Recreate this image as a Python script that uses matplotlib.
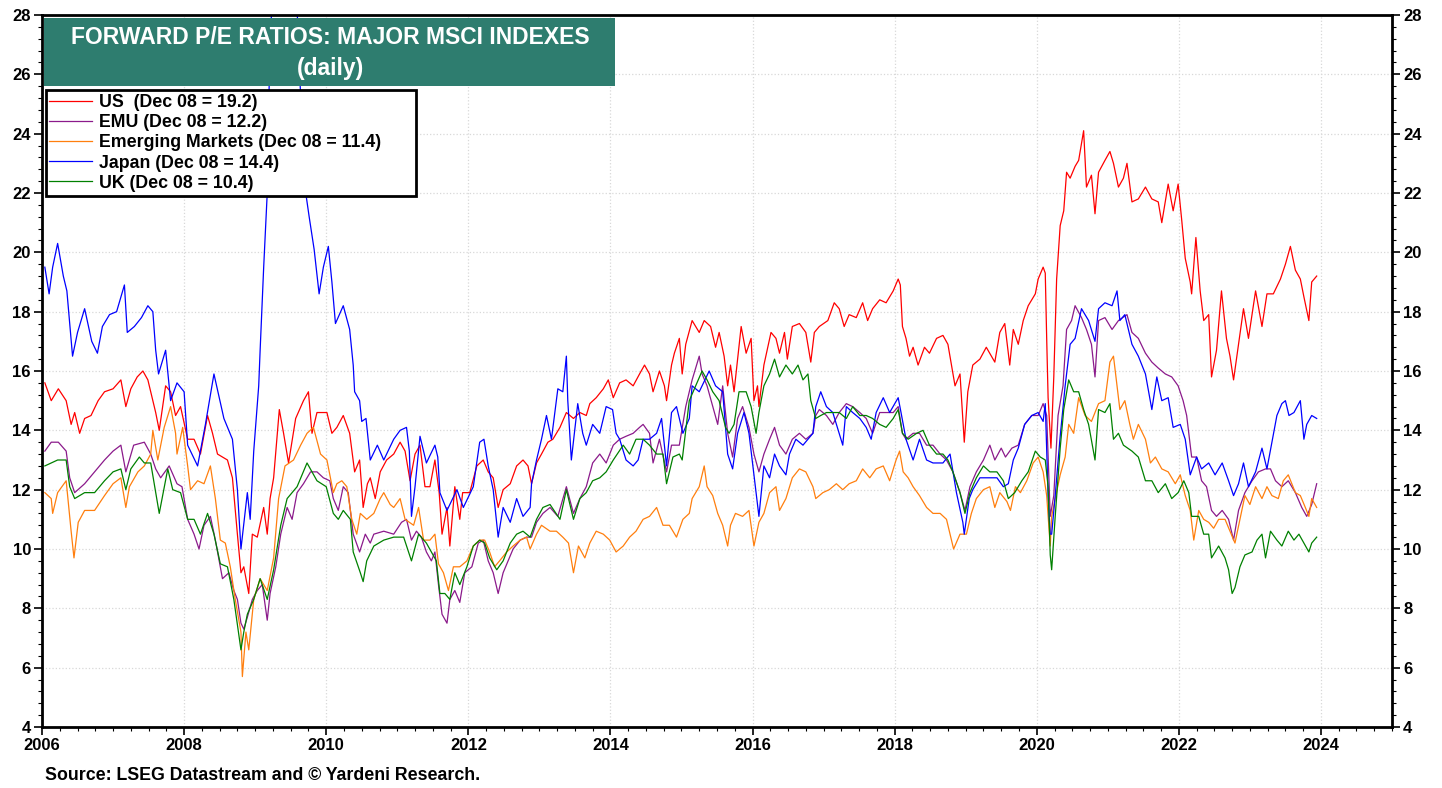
import matplotlib
matplotlib.use("Agg")
import matplotlib.pyplot as plt
from matplotlib.ticker import MultipleLocator, FixedLocator
from matplotlib.patches import Rectangle

plt.rcParams['font.family'] = ['Liberation Sans', 'DejaVu Sans']
plt.rcParams['font.weight'] = 'bold'

# ---------------- data (decimal year, forward P/E) ----------------
us_t = [2006.04,2006.13,2006.23,2006.34,2006.41,2006.46,2006.53,2006.60,2006.69,2006.79,2006.88,2007.00,2007.11,2007.18,2007.25,2007.34,2007.42,2007.49,2007.53,2007.60,2007.65,2007.74,2007.81,2007.88,2007.95,2008.05,2008.14,2008.23,2008.33,2008.40,2008.47,2008.61,2008.68,2008.75,2008.80,2008.84,2008.91,2008.96,2009.03,2009.12,2009.17,2009.21,2009.26,2009.34,2009.40,2009.47,2009.57,2009.68,2009.75,2009.80,2009.87,2010.01,2010.08,2010.15,2010.24,2010.33,2010.40,2010.47,2010.52,2010.58,2010.62,2010.69,2010.76,2010.85,2010.95,2011.04,2011.11,2011.18,2011.25,2011.32,2011.39,2011.46,2011.53,2011.59,2011.63,2011.70,2011.74,2011.81,2011.88,2011.92,2012.02,2012.12,2012.21,2012.28,2012.35,2012.42,2012.49,2012.59,2012.68,2012.77,2012.84,2012.89,2012.96,2013.03,2013.12,2013.19,2013.29,2013.38,2013.48,2013.57,2013.66,2013.71,2013.80,2013.90,2013.97,2014.04,2014.13,2014.22,2014.32,2014.41,2014.48,2014.55,2014.60,2014.69,2014.76,2014.79,2014.86,2014.90,2014.97,2015.01,2015.06,2015.15,2015.25,2015.32,2015.41,2015.48,2015.53,2015.60,2015.65,2015.69,2015.74,2015.84,2015.91,2015.98,2016.02,2016.07,2016.09,2016.16,2016.26,2016.33,2016.38,2016.45,2016.49,2016.56,2016.66,2016.75,2016.82,2016.87,2016.94,2017.06,2017.15,2017.22,2017.29,2017.36,2017.46,2017.55,2017.62,2017.69,2017.79,2017.88,2017.98,2018.05,2018.08,2018.11,2018.16,2018.21,2018.26,2018.33,2018.42,2018.49,2018.59,2018.68,2018.75,2018.80,2018.85,2018.92,2018.98,2019.03,2019.10,2019.20,2019.29,2019.41,2019.48,2019.55,2019.62,2019.67,2019.74,2019.81,2019.88,2019.98,2020.02,2020.09,2020.12,2020.14,2020.16,2020.20,2020.24,2020.28,2020.33,2020.38,2020.42,2020.47,2020.54,2020.59,2020.66,2020.70,2020.77,2020.82,2020.87,2020.96,2021.03,2021.08,2021.15,2021.22,2021.27,2021.34,2021.43,2021.53,2021.62,2021.71,2021.76,2021.85,2021.92,2021.99,2022.04,2022.09,2022.16,2022.18,2022.24,2022.30,2022.35,2022.42,2022.46,2022.53,2022.60,2022.67,2022.72,2022.77,2022.84,2022.91,2022.98,2023.08,2023.17,2023.24,2023.33,2023.43,2023.50,2023.57,2023.64,2023.71,2023.76,2023.83,2023.87,2023.94]
us_v = [15.6,15.0,15.4,15.0,14.2,14.6,13.9,14.4,14.5,15.0,15.3,15.4,15.7,14.8,15.4,15.8,16.0,15.7,15.3,14.6,14.0,15.5,15.3,14.5,14.8,13.7,13.7,13.2,14.5,13.9,13.2,13.0,12.4,10.5,9.2,9.4,8.5,10.5,10.4,11.4,10.5,11.7,12.4,14.7,13.9,12.9,14.4,15.0,15.3,13.9,14.6,14.6,13.9,14.1,14.5,13.9,12.6,13.0,11.4,12.2,12.4,11.7,12.6,13.0,13.2,13.6,13.3,12.3,13.2,13.5,12.1,12.1,13.0,11.9,10.5,11.4,10.1,12.1,11.0,11.9,11.9,12.8,13.0,12.6,12.4,11.4,12.0,12.2,12.8,13.0,12.8,12.2,12.9,13.2,13.6,13.7,14.1,14.6,14.4,14.6,14.5,14.9,15.1,15.4,15.7,15.1,15.6,15.7,15.5,15.9,16.2,15.9,15.3,16.0,15.5,15.0,16.2,16.6,17.1,15.9,16.9,17.7,17.3,17.7,17.5,16.8,17.3,16.5,15.5,16.2,15.3,17.5,16.6,17.1,15.0,15.5,14.8,16.2,17.3,17.1,16.6,17.3,16.4,17.5,17.6,17.3,16.3,17.3,17.5,17.7,18.3,18.1,17.5,17.9,17.8,18.3,17.7,18.1,18.4,18.3,18.7,19.1,18.9,17.5,17.1,16.5,16.8,16.2,16.8,16.6,17.1,17.2,16.9,16.2,15.5,15.9,13.6,15.3,16.2,16.4,16.8,16.3,17.3,17.6,16.2,17.4,16.9,17.7,18.2,18.6,19.1,19.5,19.3,17.1,15.1,13.4,15.8,19.1,20.9,21.4,22.7,22.5,22.9,23.1,24.1,22.2,22.6,21.3,22.7,23.1,23.4,23.0,22.2,22.5,23.0,21.7,21.8,22.2,21.8,21.7,21.0,22.3,21.4,22.3,21.1,19.8,19.0,18.6,20.5,18.7,17.7,17.9,15.8,16.7,18.7,17.1,16.5,15.7,16.9,18.1,17.1,18.7,17.5,18.6,18.6,19.1,19.6,20.2,19.4,19.1,18.5,17.7,19.0,19.2]

jp_t = [2006.04,2006.10,2006.15,2006.22,2006.30,2006.35,2006.43,2006.50,2006.60,2006.70,2006.78,2006.85,2006.95,2007.05,2007.16,2007.20,2007.30,2007.40,2007.49,2007.56,2007.60,2007.64,2007.74,2007.81,2007.90,2008.00,2008.05,2008.19,2008.30,2008.42,2008.56,2008.68,2008.75,2008.80,2008.89,2008.93,2008.98,2009.05,2009.07,2009.12,2009.17,2009.20,2009.24,2009.30,2009.40,2009.50,2009.58,2009.63,2009.70,2009.76,2009.83,2009.90,2009.96,2010.03,2010.08,2010.13,2010.24,2010.33,2010.38,2010.40,2010.47,2010.50,2010.56,2010.62,2010.72,2010.81,2010.95,2011.04,2011.13,2011.17,2011.20,2011.25,2011.32,2011.41,2011.53,2011.57,2011.60,2011.70,2011.84,2011.93,2012.07,2012.16,2012.22,2012.28,2012.35,2012.42,2012.49,2012.59,2012.68,2012.77,2012.87,2012.89,2012.96,2013.03,2013.10,2013.17,2013.26,2013.33,2013.38,2013.40,2013.45,2013.54,2013.61,2013.66,2013.75,2013.85,2013.94,2014.03,2014.08,2014.13,2014.22,2014.32,2014.39,2014.46,2014.55,2014.65,2014.72,2014.79,2014.86,2014.93,2015.02,2015.11,2015.15,2015.25,2015.39,2015.48,2015.58,2015.65,2015.72,2015.79,2015.88,2015.95,2016.02,2016.09,2016.16,2016.24,2016.31,2016.38,2016.47,2016.52,2016.61,2016.71,2016.85,2016.89,2016.96,2017.04,2017.13,2017.27,2017.32,2017.41,2017.51,2017.60,2017.67,2017.74,2017.84,2017.93,2018.05,2018.09,2018.16,2018.26,2018.35,2018.45,2018.54,2018.68,2018.78,2018.87,2018.96,2018.98,2019.05,2019.10,2019.20,2019.34,2019.44,2019.53,2019.60,2019.67,2019.74,2019.83,2019.93,2020.02,2020.09,2020.12,2020.16,2020.19,2020.21,2020.26,2020.33,2020.40,2020.47,2020.54,2020.63,2020.73,2020.82,2020.87,2020.96,2021.06,2021.13,2021.17,2021.24,2021.34,2021.43,2021.53,2021.62,2021.69,2021.76,2021.85,2021.92,2022.02,2022.09,2022.16,2022.25,2022.32,2022.42,2022.51,2022.61,2022.70,2022.77,2022.84,2022.91,2022.98,2023.08,2023.17,2023.24,2023.31,2023.38,2023.45,2023.50,2023.55,2023.62,2023.71,2023.76,2023.80,2023.87,2023.94]
jp_v = [19.5,18.6,19.5,20.3,19.2,18.7,16.5,17.3,18.1,17.0,16.6,17.5,17.9,18.0,18.9,17.3,17.5,17.8,18.2,18.0,16.7,15.9,16.7,15.0,15.6,15.3,13.5,12.8,14.2,15.9,14.4,13.7,12.0,10.0,11.9,11.0,13.3,15.5,16.7,19.5,22.0,26.0,28.8,31.0,32.0,30.5,28.8,25.8,22.2,21.2,20.1,18.6,19.5,20.2,19.0,17.6,18.2,17.4,16.2,15.3,15.0,14.3,14.4,13.0,13.5,13.0,13.7,14.0,14.1,13.3,11.1,12.1,13.8,12.9,13.5,13.1,11.9,11.3,12.0,11.4,12.1,13.6,13.7,12.8,12.0,10.4,11.4,10.9,11.7,11.1,11.4,12.2,13.0,13.7,14.5,13.7,15.4,15.3,16.5,15.0,13.0,14.9,13.9,13.5,14.2,13.9,14.8,14.7,13.9,13.7,13.0,12.8,13.0,13.7,13.7,13.9,14.4,12.8,14.6,14.8,13.9,14.4,15.5,15.3,16.0,15.5,15.3,13.2,12.7,13.9,14.6,13.9,12.5,11.1,12.8,12.4,13.2,12.8,12.5,13.2,13.7,13.5,13.9,14.8,15.3,14.8,14.6,13.5,14.8,14.6,14.4,14.1,13.7,14.6,15.1,14.6,15.1,14.6,13.7,13.0,13.7,13.0,12.9,12.9,13.2,11.9,10.9,10.5,11.7,12.0,12.4,12.4,12.4,12.1,12.2,13.0,13.4,14.2,14.5,14.6,14.3,14.9,11.8,10.5,10.5,11.8,13.8,15.5,16.9,17.1,18.1,17.7,17.0,18.1,18.3,18.2,18.7,17.7,17.9,16.9,16.5,15.9,14.7,15.8,15.0,15.1,14.1,14.2,13.7,12.5,13.1,12.7,12.9,12.5,12.9,12.3,11.8,12.2,12.9,12.1,12.6,13.4,12.7,13.6,14.5,14.9,15.0,14.5,14.6,15.0,13.7,14.2,14.5,14.4]

emu_t = [2006.04,2006.13,2006.23,2006.34,2006.39,2006.46,2006.60,2006.74,2006.88,2007.00,2007.11,2007.18,2007.29,2007.44,2007.53,2007.60,2007.67,2007.79,2007.90,2007.97,2008.05,2008.14,2008.21,2008.28,2008.37,2008.44,2008.54,2008.63,2008.70,2008.75,2008.80,2008.84,2008.89,2008.96,2009.03,2009.10,2009.17,2009.21,2009.29,2009.36,2009.45,2009.52,2009.59,2009.68,2009.78,2009.87,2009.96,2010.05,2010.10,2010.17,2010.24,2010.31,2010.38,2010.47,2010.55,2010.62,2010.67,2010.81,2010.95,2011.06,2011.13,2011.20,2011.27,2011.34,2011.41,2011.48,2011.53,2011.58,2011.63,2011.70,2011.74,2011.81,2011.88,2011.95,2012.05,2012.14,2012.21,2012.28,2012.35,2012.42,2012.49,2012.56,2012.63,2012.73,2012.82,2012.89,2012.96,2013.05,2013.15,2013.26,2013.38,2013.48,2013.57,2013.66,2013.75,2013.85,2013.94,2014.04,2014.13,2014.22,2014.32,2014.41,2014.46,2014.55,2014.60,2014.69,2014.79,2014.86,2014.97,2015.06,2015.15,2015.25,2015.29,2015.36,2015.44,2015.51,2015.58,2015.65,2015.72,2015.79,2015.86,2015.95,2016.02,2016.09,2016.16,2016.24,2016.31,2016.38,2016.47,2016.56,2016.66,2016.75,2016.85,2016.89,2016.94,2017.04,2017.13,2017.22,2017.32,2017.41,2017.51,2017.60,2017.69,2017.79,2017.88,2017.98,2018.05,2018.11,2018.16,2018.26,2018.35,2018.45,2018.54,2018.64,2018.73,2018.82,2018.92,2018.99,2019.06,2019.15,2019.25,2019.34,2019.41,2019.50,2019.56,2019.65,2019.74,2019.83,2019.93,2020.02,2020.09,2020.14,2020.19,2020.24,2020.30,2020.37,2020.42,2020.49,2020.54,2020.63,2020.70,2020.77,2020.82,2020.87,2020.96,2021.06,2021.15,2021.27,2021.34,2021.43,2021.53,2021.62,2021.71,2021.81,2021.90,2021.99,2022.06,2022.11,2022.18,2022.25,2022.32,2022.39,2022.46,2022.53,2022.61,2022.70,2022.77,2022.84,2022.93,2023.03,2023.12,2023.22,2023.29,2023.36,2023.45,2023.54,2023.64,2023.73,2023.80,2023.87,2023.94]
emu_v = [13.3,13.6,13.6,13.3,12.4,11.9,12.2,12.6,13.0,13.3,13.5,12.6,13.5,13.6,13.2,12.7,12.4,12.8,12.2,12.1,11.0,10.5,10.0,10.8,11.1,10.3,9.0,9.2,8.6,8.3,7.5,7.3,7.7,8.3,8.6,8.8,7.6,8.5,9.4,10.5,11.4,11.0,11.9,12.2,12.6,12.6,12.4,12.3,11.7,11.3,12.1,11.9,10.5,9.9,10.5,10.2,10.5,10.6,10.5,10.9,11.0,10.3,10.6,10.4,9.9,9.6,9.9,8.8,7.8,7.5,8.3,8.6,8.2,9.2,9.4,10.2,10.3,9.6,9.2,8.5,9.2,9.6,10.0,10.3,10.4,10.4,10.9,11.2,11.4,11.1,12.1,11.2,11.7,12.1,12.9,13.2,12.9,13.5,13.7,13.8,13.9,14.1,14.2,13.9,12.9,13.7,12.6,13.5,13.5,14.8,15.7,16.5,15.9,15.5,14.8,14.2,15.5,13.9,13.1,14.4,14.8,14.1,13.2,12.6,13.2,13.7,14.1,13.5,13.2,13.7,13.9,13.7,13.9,14.5,14.7,14.5,14.2,14.6,14.9,14.8,14.6,14.4,13.9,14.6,14.6,14.6,14.8,13.9,13.7,13.9,13.9,13.5,13.5,13.2,13.0,12.6,11.9,11.3,12.1,12.6,13.0,13.5,13.0,13.4,13.1,13.4,13.5,14.2,14.5,14.5,14.9,14.5,11.1,11.8,14.5,15.5,17.4,17.7,18.2,17.8,17.4,16.9,15.8,17.7,17.8,17.4,17.7,17.9,17.3,17.1,16.6,16.3,16.1,15.9,15.8,15.5,15.0,14.5,13.1,13.1,12.3,12.1,11.3,11.1,11.3,11.0,10.3,11.3,11.9,12.3,12.6,12.7,12.7,12.3,12.1,12.3,11.9,11.4,11.1,11.5,12.2]

em_t = [2006.04,2006.13,2006.15,2006.22,2006.34,2006.41,2006.45,2006.51,2006.60,2006.74,2006.88,2007.00,2007.11,2007.18,2007.23,2007.35,2007.44,2007.53,2007.56,2007.63,2007.72,2007.81,2007.88,2007.90,2007.98,2008.05,2008.09,2008.19,2008.28,2008.37,2008.44,2008.51,2008.58,2008.65,2008.72,2008.80,2008.82,2008.87,2008.91,2008.98,2009.07,2009.17,2009.26,2009.33,2009.42,2009.54,2009.64,2009.73,2009.82,2009.92,2010.01,2010.10,2010.15,2010.22,2010.29,2010.36,2010.43,2010.48,2010.57,2010.67,2010.76,2010.81,2010.90,2010.95,2011.04,2011.11,2011.23,2011.30,2011.37,2011.46,2011.53,2011.58,2011.65,2011.72,2011.79,2011.88,2011.98,2012.07,2012.16,2012.23,2012.30,2012.37,2012.44,2012.54,2012.63,2012.73,2012.82,2012.87,2012.96,2013.03,2013.15,2013.24,2013.33,2013.41,2013.48,2013.55,2013.64,2013.71,2013.80,2013.90,2013.99,2014.08,2014.18,2014.27,2014.36,2014.46,2014.55,2014.65,2014.74,2014.83,2014.93,2015.02,2015.11,2015.15,2015.25,2015.32,2015.36,2015.44,2015.51,2015.58,2015.65,2015.69,2015.76,2015.86,2015.95,2016.02,2016.09,2016.16,2016.24,2016.33,2016.38,2016.47,2016.56,2016.66,2016.75,2016.85,2016.89,2016.99,2017.08,2017.18,2017.27,2017.36,2017.46,2017.55,2017.65,2017.74,2017.84,2017.93,2018.02,2018.07,2018.12,2018.19,2018.26,2018.35,2018.45,2018.54,2018.64,2018.73,2018.78,2018.83,2018.92,2019.01,2019.08,2019.15,2019.25,2019.34,2019.41,2019.48,2019.58,2019.63,2019.70,2019.77,2019.86,2019.95,2020.02,2020.09,2020.14,2020.19,2020.21,2020.26,2020.33,2020.40,2020.45,2020.52,2020.59,2020.68,2020.77,2020.87,2020.96,2021.03,2021.08,2021.13,2021.17,2021.24,2021.31,2021.36,2021.43,2021.53,2021.60,2021.67,2021.76,2021.85,2021.95,2022.02,2022.09,2022.16,2022.21,2022.28,2022.35,2022.42,2022.49,2022.56,2022.65,2022.72,2022.79,2022.86,2022.93,2023.00,2023.08,2023.17,2023.24,2023.31,2023.40,2023.47,2023.54,2023.64,2023.71,2023.78,2023.83,2023.87,2023.94]
em_v = [11.9,11.7,11.2,11.9,12.3,10.6,9.7,10.9,11.3,11.3,11.8,12.2,12.4,11.4,12.1,12.6,12.8,13.2,14.0,13.0,14.1,14.8,13.9,13.2,14.1,12.8,12.0,12.3,12.2,12.8,11.7,10.3,10.2,9.4,8.3,7.2,5.7,7.2,6.6,8.3,9.0,8.6,9.7,11.7,12.8,13.0,13.5,13.9,14.1,13.2,13.0,11.9,12.2,12.3,12.1,11.0,10.5,11.2,11.0,11.2,11.7,11.9,11.5,11.4,11.7,11.0,10.8,11.4,10.3,10.3,10.5,9.5,9.2,8.6,9.4,9.4,9.6,10.1,10.3,10.3,9.9,9.4,9.6,9.9,10.1,10.3,10.4,10.0,10.5,10.8,10.6,10.6,10.4,10.2,9.2,10.1,9.7,10.2,10.6,10.5,10.3,9.9,10.1,10.4,10.6,11.0,11.1,11.4,10.8,10.8,10.4,11.0,11.2,11.7,12.1,12.8,12.1,11.8,11.2,10.8,10.1,10.8,11.2,11.1,11.3,10.1,10.9,11.2,11.9,12.1,11.3,11.7,12.4,12.7,12.6,12.1,11.7,11.9,12.0,12.2,12.0,12.2,12.3,12.7,12.4,12.7,12.8,12.3,13.0,13.3,12.6,12.4,12.1,11.8,11.4,11.2,11.2,11.0,10.5,10.0,10.5,10.5,11.2,11.7,12.0,12.1,11.4,11.9,11.6,11.3,12.1,11.9,12.3,12.9,13.1,12.6,11.8,10.1,11.1,11.7,12.5,13.1,14.2,13.9,15.1,14.5,14.3,14.9,15.0,16.3,16.5,15.5,14.7,15.0,14.2,13.7,14.2,13.7,12.9,13.1,12.7,12.6,12.2,12.5,11.8,11.3,10.3,11.3,11.0,10.9,10.7,11.0,11.0,10.6,10.2,11.0,11.8,11.5,12.1,11.7,12.1,11.8,11.7,12.3,12.5,11.9,11.8,11.4,11.1,11.7,11.4]

uk_t = [2006.04,2006.13,2006.22,2006.34,2006.39,2006.46,2006.60,2006.74,2006.88,2007.00,2007.11,2007.18,2007.25,2007.37,2007.44,2007.53,2007.60,2007.65,2007.77,2007.84,2007.95,2008.05,2008.14,2008.23,2008.33,2008.42,2008.51,2008.61,2008.70,2008.80,2008.84,2008.89,2008.98,2009.07,2009.17,2009.26,2009.36,2009.45,2009.59,2009.73,2009.87,2010.00,2010.10,2010.17,2010.24,2010.34,2010.38,2010.48,2010.52,2010.57,2010.67,2010.81,2010.95,2011.09,2011.20,2011.30,2011.41,2011.48,2011.55,2011.60,2011.67,2011.74,2011.81,2011.88,2011.98,2012.07,2012.16,2012.23,2012.30,2012.40,2012.49,2012.59,2012.68,2012.77,2012.87,2012.96,2013.05,2013.15,2013.29,2013.38,2013.48,2013.57,2013.66,2013.75,2013.85,2013.94,2014.04,2014.18,2014.27,2014.36,2014.46,2014.55,2014.65,2014.74,2014.79,2014.88,2014.97,2015.01,2015.11,2015.20,2015.29,2015.36,2015.44,2015.53,2015.62,2015.67,2015.74,2015.81,2015.91,2015.98,2016.05,2016.09,2016.16,2016.24,2016.31,2016.38,2016.47,2016.56,2016.64,2016.71,2016.78,2016.82,2016.89,2016.96,2017.04,2017.13,2017.22,2017.32,2017.41,2017.51,2017.60,2017.69,2017.79,2017.88,2017.98,2018.05,2018.11,2018.19,2018.31,2018.40,2018.49,2018.59,2018.68,2018.75,2018.82,2018.92,2018.99,2019.06,2019.15,2019.25,2019.34,2019.44,2019.53,2019.60,2019.69,2019.79,2019.88,2019.98,2020.05,2020.12,2020.16,2020.19,2020.21,2020.26,2020.33,2020.38,2020.45,2020.52,2020.59,2020.66,2020.73,2020.82,2020.87,2020.96,2021.03,2021.08,2021.15,2021.22,2021.34,2021.43,2021.53,2021.62,2021.71,2021.81,2021.90,2021.99,2022.07,2022.14,2022.18,2022.28,2022.35,2022.42,2022.46,2022.56,2022.65,2022.70,2022.75,2022.79,2022.86,2022.93,2023.03,2023.10,2023.17,2023.22,2023.29,2023.38,2023.45,2023.54,2023.62,2023.69,2023.76,2023.83,2023.87,2023.94]
uk_v = [12.8,12.9,13.0,13.0,12.1,11.7,11.9,11.9,12.3,12.6,12.7,12.0,12.7,13.1,12.9,12.9,11.9,11.2,12.7,12.0,11.9,11.0,11.0,10.5,11.2,10.5,9.5,9.4,8.3,6.6,7.2,7.8,8.3,9.0,8.3,9.3,10.8,11.7,12.1,12.9,12.3,12.1,11.2,11.0,11.3,11.0,9.9,9.2,8.9,9.6,10.1,10.3,10.4,10.4,9.6,10.5,10.2,9.9,9.6,8.5,8.5,8.3,9.2,8.8,9.4,10.1,10.3,10.2,9.7,9.3,9.6,10.2,10.5,10.6,10.4,11.0,11.4,11.5,11.0,12.0,11.0,11.7,11.9,12.3,12.4,12.6,13.0,13.5,13.2,13.7,13.7,13.5,13.2,13.2,12.2,13.1,13.2,13.0,15.0,15.5,16.0,15.7,15.3,15.0,14.1,13.9,14.2,15.3,15.3,14.8,13.9,14.6,15.5,15.9,16.4,15.8,16.2,15.9,16.2,15.7,15.9,15.0,14.4,14.5,14.6,14.6,14.6,14.4,14.8,14.5,14.5,14.4,14.2,14.1,14.4,14.7,13.9,13.7,13.9,14.0,13.5,13.2,13.2,13.0,12.6,11.9,11.2,11.9,12.4,12.8,12.6,12.6,12.3,11.7,11.9,12.3,12.6,13.3,13.1,13.0,12.1,9.8,9.3,11.1,13.4,14.7,15.7,15.3,15.3,14.7,14.2,13.0,14.7,14.6,14.9,13.7,13.9,13.5,13.3,13.1,12.3,12.3,11.9,12.2,11.7,11.9,12.3,11.9,11.1,11.1,10.5,10.5,9.7,10.1,9.7,9.3,8.5,8.7,9.4,9.8,9.9,10.3,10.5,9.7,10.6,10.3,10.1,10.6,10.3,10.5,10.2,9.9,10.2,10.4]

labels = ["US  (Dec 08 = 19.2)", "EMU (Dec 08 = 12.2)", "Emerging Markets (Dec 08 = 11.4)",
          "Japan (Dec 08 = 14.4)", "UK (Dec 08 = 10.4)"]
colors = ["#FF0000", "#8B1A8B", "#FF7F0E", "#0000FF", "#008000"]
series = [(us_t, us_v), (emu_t, emu_v), (em_t, em_v), (jp_t, jp_v), (uk_t, uk_v)]

W, H = 1442, 788
fig = plt.figure(figsize=(W / 100, H / 100), dpi=100)
L, R, T, B = 42, 1392, 15, 727
ax = fig.add_axes([L / W, 1 - B / H, (R - L) / W, (B - T) / H])


def ax_x(px):
    return (px - L) / (R - L)


def ax_y(py):
    return 1 - (py - T) / (B - T)


for (t, v), c, lab in zip(series, colors, labels):
    ax.plot(t, v, color=c, lw=0.9, label=lab)

ax.set_xlim(2006, 2025)
ax.set_ylim(4, 28)
ax.xaxis.set_major_locator(FixedLocator(list(range(2006, 2025, 2))))
ax.xaxis.set_minor_locator(MultipleLocator(0.25))
ax.yaxis.set_major_locator(MultipleLocator(2))
ax.yaxis.set_minor_locator(MultipleLocator(0.4))
ax.grid(True, which='major', color='#D8D8D8', linestyle=':', linewidth=0.9)
ax.tick_params(axis='both', which='major', direction='out', length=6, width=1.2,
               labelsize=12, pad=2)
ax.tick_params(axis='both', which='minor', direction='out', length=3, width=0.8)
ax.tick_params(axis='y', which='both', left=True, right=True, labelleft=True, labelright=True)
for lab in ax.get_xticklabels() + ax.get_yticklabels():
    lab.set_fontweight('bold')
for s in ax.spines.values():
    s.set_linewidth(2.0)
    s.set_color('black')

# title box
ax.add_patch(Rectangle((ax_x(44), ax_y(86)), ax_x(615) - ax_x(44), ax_y(18) - ax_y(86),
                       transform=ax.transAxes, facecolor='#2E7D6F', edgecolor='none', zorder=5))
fig.text(330 / W, 1 - 37 / H, "FORWARD P/E RATIOS: MAJOR MSCI INDEXES", color='white',
         fontsize=16.5, fontweight='bold', ha='center', va='center', zorder=6)
fig.text(330 / W, 1 - 68 / H, "(daily)", color='white',
         fontsize=16.5, fontweight='bold', ha='center', va='center', zorder=6)

# legend box (white with black frame) and entries
ax.add_patch(Rectangle((ax_x(46), ax_y(196)), ax_x(416) - ax_x(46), ax_y(90) - ax_y(196),
                       transform=ax.transAxes, facecolor='white', edgecolor='black',
                       linewidth=2.0, zorder=6))
leg = ax.legend(loc='upper left', bbox_to_anchor=(ax_x(45), ax_y(90)),
                borderaxespad=0, frameon=False,
                prop={'weight': 'bold', 'size': 12.8}, handlelength=2.4, handletextpad=0.4,
                labelspacing=0.17, borderpad=0.25)
leg.set_zorder(7)

fig.text(45 / W, 1 - 776 / H, "Source: LSEG Datastream and \u00a9 Yardeni Research.",
         fontsize=12.8, fontweight='bold', ha='left', va='center')

fig.savefig("out.png", dpi=100)
